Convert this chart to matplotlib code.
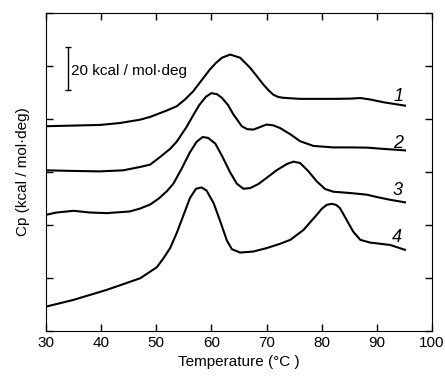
import numpy as np
import matplotlib
matplotlib.use('Agg')
import matplotlib.pyplot as plt

plt.rcParams['font.family'] = ['Liberation Sans', 'DejaVu Sans']

# -- datos (T en °C, Cp en kcal/mol·deg, con desplazamiento) --
T1 = [30.0, 35.0, 39.8, 43.4, 47.1, 48.9, 50.1, 51.9, 53.7, 55.2, 56.7, 58.2, 59.7, 60.8,
      61.9, 63.4, 65.2, 67.0, 68.2, 69.4, 70.3, 71.2, 72.1, 73.0, 76.1, 79.1, 82.1, 85.1,
      87.0, 88.8, 91.2, 95.1]
cp1 = [96.6, 96.9, 97.2, 98.1, 99.7, 101.0, 102.2, 104.0, 106.0, 109.2, 113.1, 118.2, 123.3,
       126.4, 128.9, 130.4, 128.9, 124.2, 120.3, 116.3, 113.7, 111.5, 110.4, 110.0, 109.5,
       109.5, 109.5, 109.6, 109.9, 109.2, 107.9, 106.3]

T2 = [30.0, 35.0, 39.8, 44.0, 47.1, 48.9, 50.7, 52.5, 53.7, 55.5, 56.7, 57.8, 59.0, 60.0,
      61.0, 61.9, 63.0, 64.0, 65.5, 66.5, 67.6, 68.8, 70.0, 71.2, 72.4, 74.3, 76.1, 78.5,
      82.1, 85.1, 88.2, 91.2, 95.1]
cp2 = [75.8, 75.5, 75.3, 75.8, 77.4, 78.5, 82.1, 85.9, 89.3, 96.3, 101.8, 106.6, 110.5, 112.2,
       111.7, 110.0, 106.6, 102.1, 96.6, 95.2, 95.0, 96.2, 97.4, 97.0, 95.8, 92.8, 89.5, 87.3,
       86.6, 86.6, 86.5, 85.9, 85.2]

T3 = [30.0, 31.9, 35.0, 38.0, 41.0, 45.2, 47.1, 48.9, 50.4, 51.9, 53.1, 54.6, 56.1, 57.3,
      58.4, 59.4, 60.7, 61.9, 63.4, 64.6, 65.8, 67.0, 68.5, 70.0, 71.8, 73.7, 74.9, 76.1,
      77.6, 79.1, 80.6, 82.1, 85.1, 88.2, 90.0, 92.4, 95.1]
cp3 = [54.8, 55.9, 56.7, 55.9, 55.6, 56.4, 57.8, 59.7, 62.4, 65.9, 69.5, 76.6, 84.3, 89.2,
       91.5, 91.1, 88.4, 82.7, 74.8, 69.5, 67.1, 67.4, 69.3, 72.2, 75.8, 78.8, 79.9, 79.2,
       75.3, 70.6, 67.0, 65.7, 65.1, 64.3, 63.2, 61.9, 60.7]

T4 = [30.0, 35.0, 41.0, 47.1, 50.1, 51.3, 52.5, 53.7, 54.9, 56.1, 57.2, 58.2, 59.1, 60.4,
      61.6, 62.8, 63.7, 65.2, 67.6, 70.0, 72.4, 74.3, 76.7, 79.1, 80.0, 80.9, 81.8, 82.6,
      83.3, 84.5, 85.7, 87.0, 88.8, 92.4, 95.1]
cp4 = [11.5, 14.7, 19.4, 24.9, 30.1, 34.3, 39.1, 46.2, 54.4, 62.7, 67.1, 67.7, 66.3, 60.3,
       51.7, 42.7, 38.6, 37.0, 37.5, 39.1, 41.1, 43.0, 47.7, 54.8, 57.6, 59.5, 60.0, 59.5,
       58.0, 52.5, 46.9, 43.0, 41.7, 40.6, 38.3]

etiquetas = ['1', '2', '3', '4']
pos_etiq_T = [94.0, 93.9, 93.7, 93.7]
pos_etiq_cp = [110.5, 88.6, 66.5, 44.0]

# barra de escala
escala_T = 33.9
escala_cp = 123.8
escala_len = 20

fig = plt.figure(figsize=(4.45, 3.8), dpi=100)
ax = fig.add_axes([0.1034, 0.1289, 0.8674, 0.8369])

for T, cp in [(T1, cp1), (T2, cp2), (T3, cp3), (T4, cp4)]:
    ax.plot(T, cp, color='black', lw=1.5)

for s, x, y in zip(etiquetas, pos_etiq_T, pos_etiq_cp):
    ax.text(x, y, s, fontsize=13, style='italic', ha='center', va='center')

ax.errorbar([escala_T], [escala_cp], yerr=escala_len / 2, color='black',
            capsize=2.5, lw=1.0, capthick=1.0)
ax.text(escala_T + 0.7, escala_cp - 1.3, '20 kcal / mol·deg', fontsize=11,
        ha='left', va='center')

ax.set_xlim(30, 100)
ax.set_ylim(0, 150)
ax.set_xticks(np.arange(30, 101, 10))
ax.set_yticks(np.arange(0, 151, 25))
ax.set_yticklabels([])
ax.tick_params(direction='in', top=True, right=True, length=5, width=1, labelsize=11)
ax.set_xlabel('Temperature (°C )', fontsize=11, labelpad=4)
ax.set_ylabel('Cp (kcal / mol·deg)', fontsize=11, labelpad=8)

fig.savefig('out.png', dpi=100)
